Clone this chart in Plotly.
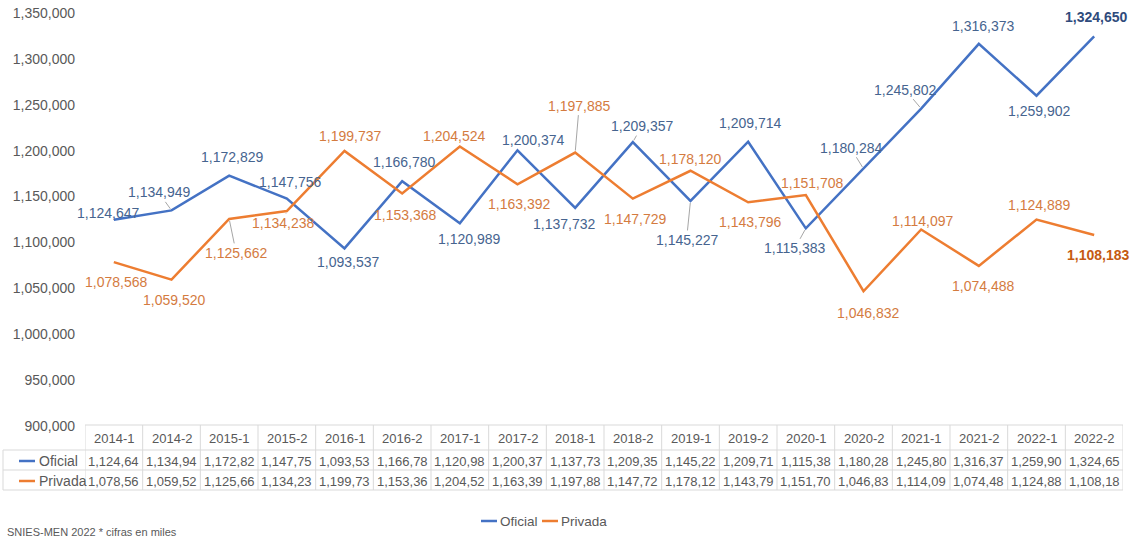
import plotly.graph_objects as go

# Matrícula por semestre, instituciones oficiales vs. privadas
periodos = ["2014-1", "2014-2", "2015-1", "2015-2", "2016-1", "2016-2",
            "2017-1", "2017-2", "2018-1", "2018-2", "2019-1", "2019-2",
            "2020-1", "2020-2", "2021-1", "2021-2", "2022-1", "2022-2"]
oficial = [1124647, 1134949, 1172829, 1147756, 1093537, 1166780,
           1120989, 1200374, 1137732, 1209357, 1145227, 1209714,
           1115383, 1180284, 1245802, 1316373, 1259902, 1324650]
privada = [1078568, 1059520, 1125662, 1134238, 1199737, 1153368,
           1204524, 1163392, 1197885, 1147729, 1178120, 1143796,
           1151708, 1046832, 1114097, 1074488, 1124889, 1108183]
y_ticks = [900000, 950000, 1000000, 1050000, 1100000, 1150000,
           1200000, 1250000, 1300000, 1350000]
fuente = "SNIES-MEN 2022 * cifras en miles"

# label placement (pixel offsets from each point) and leader-line flags
of_off = [(-6, -7), (-13, -18), (3, -19), (3, -17), (3, 14), (2, -19),
          (9, 16), (15, -10), (-11, 16), (9, -16), (-4, 39), (2, -19),
          (-11, 20), (-13, -21), (-16, -19), (4, -18), (2, 15), (2, -19)]
of_lead = {1, 9, 10, 12, 13, 14}
pr_off = [(2, 20), (2, 20), (7, 34), (-4, 12), (5, -15), (3, 22),
          (-6, -11), (1, 20), (4, -47), (2, 20), (-1, -12), (2, 20),
          (6, -12), (4, 22), (1, -9), (4, 20), (2, -15), (4, 20)]
pr_lead = {2, 3, 8}

FONT = "Liberation Sans, Arial, sans-serif"
C_OF, C_PR = "#4472C4", "#ED7D31"
T_OF, T_PR = "#46648f", "#d47b3f"
GRID = "#d9d9d9"
GRAY = "#595959"

W, H = 1135, 541
L, R, T, B = 85, 12, 13, 115
PH = H - T - B


def py(pix):
    """pixel row -> paper y"""
    return (H - B - pix) / PH


def px(pix):
    """pixel column -> paper x"""
    return (pix - L) / (W - L - R)


fig = go.Figure()
fig.add_trace(go.Scatter(x=periodos, y=oficial, mode="lines", name="Oficial",
                         line=dict(color=C_OF, width=2.5), showlegend=False))
fig.add_trace(go.Scatter(x=periodos, y=privada, mode="lines", name="Privada",
                         line=dict(color=C_PR, width=2.5), showlegend=False))

ann = []
shapes = []


def data_labels(vals, offs, leads, color, last_color):
    n = len(vals)
    for i, v in enumerate(vals):
        dx, dy = offs[i]
        last = i == n - 1
        txt = f"{v:,}"
        if last:
            txt = f"<b>{txt}</b>"
        f = dict(family=FONT, size=14, color=last_color if last else color)
        if i in leads:
            ann.append(dict(x=i, y=v, xref="x", yref="y", text=txt, font=f,
                            showarrow=True, ax=dx, ay=dy, arrowhead=0,
                            arrowwidth=1, arrowcolor="#a6a6a6", standoff=2))
        else:
            ann.append(dict(x=i, y=v, xref="x", yref="y", text=txt, font=f,
                            xanchor="center", yanchor="middle",
                            showarrow=False, xshift=dx, yshift=-dy))


data_labels(oficial, of_off, of_lead, T_OF, "#2f4b7c")
data_labels(privada, pr_off, pr_lead, T_PR, "#c55a11")

# data table under the axis
n = len(periodos)
top, r1, r2, bot = 425, 450, 470, 490
line = dict(color=GRID, width=1)
shapes.append(dict(type="line", xref="x", yref="paper", x0=-0.5, x1=n - 0.5,
                   y0=py(top), y1=py(top), line=line))
for yy in (r1, r2, bot):
    shapes.append(dict(type="line", xref="paper", yref="paper", x0=px(3),
                       x1=px(W - R), y0=py(yy), y1=py(yy), line=line))
for i in range(n + 1):
    shapes.append(dict(type="line", xref="x", yref="paper", x0=i - 0.5,
                       x1=i - 0.5, y0=py(top), y1=py(bot), line=line))
shapes.append(dict(type="line", xref="paper", yref="paper", x0=px(3), x1=px(3),
                   y0=py(r1), y1=py(bot), line=line))

tf = dict(family=FONT, size=13, color=GRAY)
cell = dict(xref="x", yref="paper", font=tf, showarrow=False,
            xanchor="center", yanchor="middle")
for i, p in enumerate(periodos):
    ann.append(dict(x=i, y=py((top + r1) / 2 + 1), text=p, **cell))
    ann.append(dict(x=i, y=py((r1 + r2) / 2 + 1), text=f"{oficial[i]:,}"[:-1], **cell))
    ann.append(dict(x=i, y=py((r2 + bot) / 2 + 1), text=f"{privada[i]:,}"[:-1], **cell))

for name, col, (a, b) in (("Oficial", C_OF, (r1, r2)), ("Privada", C_PR, (r2, bot))):
    yc = py((a + b) / 2 + 1)
    shapes.append(dict(type="line", xref="paper", yref="paper", x0=px(19),
                       x1=px(35), y0=yc, y1=yc, line=dict(color=col, width=2.5)))
    ann.append(dict(x=px(37), y=yc, xref="paper", yref="paper", text=name,
                    xanchor="left", yanchor="middle",
                    font=dict(family=FONT, size=14, color=GRAY),
                    showarrow=False))

# legend below the table
yl = py(521)
for name, col, x0, x1 in (("Oficial", C_OF, 481, 497), ("Privada", C_PR, 542, 558)):
    shapes.append(dict(type="line", xref="paper", yref="paper", x0=px(x0),
                       x1=px(x1), y0=yl, y1=yl, line=dict(color=col, width=2.5)))
    ann.append(dict(x=px(x1 + 1), y=yl, xref="paper", yref="paper", text=name,
                    xanchor="left", yanchor="middle",
                    font=dict(family=FONT, size=13.5, color=GRAY),
                    showarrow=False))

ann.append(dict(x=px(5), y=py(532), xref="paper", yref="paper", text=fuente,
                xanchor="left", yanchor="middle",
                font=dict(family=FONT, size=11, color=GRAY),
                showarrow=False))

fig.update_layout(
    template="none",
    width=W, height=H,
    margin=dict(l=L, r=R, t=T, b=B, autoexpand=False),
    paper_bgcolor="white", plot_bgcolor="white",
    showlegend=False,
    annotations=ann, shapes=shapes,
    xaxis=dict(type="category", range=[-0.5, n - 0.5], showticklabels=False,
               showgrid=False, zeroline=False, showline=False, ticks="",
               automargin=False),
    yaxis=dict(range=[900000, 1350000], tickvals=y_ticks, tickformat=",",
               showgrid=False, zeroline=False, showline=False, ticks="",
               ticklabelstandoff=9, automargin=False,
               tickfont=dict(family=FONT, size=14, color=GRAY)),
)

fig.write_html("out.html")
